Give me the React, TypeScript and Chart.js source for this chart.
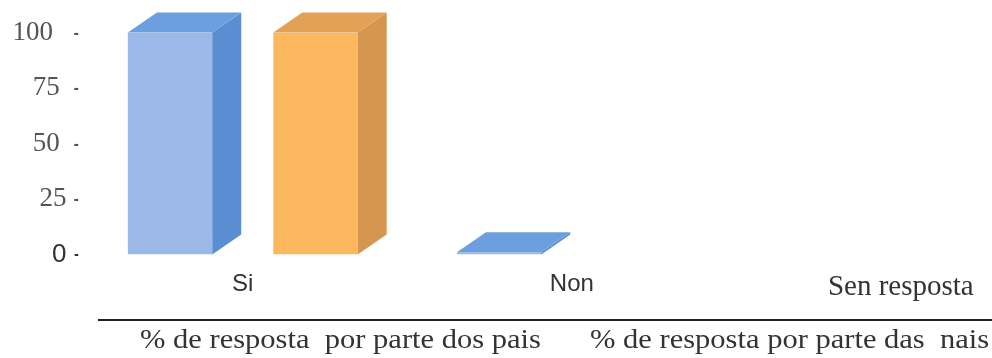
import React, { useEffect, useRef } from 'react';
import { Chart, registerables } from 'chart.js';

Chart.register(...registerables);

const categories = ['Si', 'Non', 'Sen resposta'];
const paisValues = [100, 1, 0];
const naisValues = [100, 0, 0];
const seriesLabels = ['% de resposta  por parte dos pais', '% de resposta por parte das  nais'];
const yTickValues = [0, 25, 50, 75, 100];
const yTickLabels = ['0 -', '25 -', '50  -', '75  -', '100   -'];

const frontColors = ['#9BB8E8', '#FCB75F'];
const topColors = ['#6C9FDD', '#E2A154'];
const sideColors = ['#5A8ED2', '#D5964F'];

const bar3dPlugin = {
  id: 'bar3d',
  afterDatasetsDraw(chart: any) {
    const ctx = chart.ctx;
    const dx = 29;
    const dy = 20;
    chart.data.datasets.forEach((ds: any, di: number) => {
      const meta = chart.getDatasetMeta(di);
      meta.data.forEach((el: any, i: number) => {
        const raw = ds.data[i];
        if (!raw || raw.y <= 0) return;
        const { x, y, base, width } = el.getProps(['x', 'y', 'base', 'width'], true);
        const l = x - width / 2;
        const r = x + width / 2;
        ctx.save();
        ctx.fillStyle = sideColors[di];
        ctx.beginPath();
        ctx.moveTo(r, y);
        ctx.lineTo(r + dx, y - dy);
        ctx.lineTo(r + dx, base - dy);
        ctx.lineTo(r, base);
        ctx.closePath();
        ctx.fill();
        ctx.fillStyle = topColors[di];
        ctx.beginPath();
        ctx.moveTo(l, y);
        ctx.lineTo(l + dx, y - dy);
        ctx.lineTo(r + dx, y - dy);
        ctx.lineTo(r, y);
        ctx.closePath();
        ctx.fill();
        ctx.restore();
      });
    });
  },
};

const legendPlugin = {
  id: 'customLegend',
  afterDraw(chart: any) {
    const ctx = chart.ctx;
    ctx.save();
    ctx.strokeStyle = '#222';
    ctx.lineWidth = 2;
    ctx.beginPath();
    ctx.moveTo(98, 320);
    ctx.lineTo(chart.width, 320);
    ctx.stroke();
    ctx.fillStyle = '#333';
    ctx.font = '28px "Liberation Serif"';
    ctx.textBaseline = 'alphabetic';
    const xs = [140, 590];
    chart.data.datasets.forEach((ds: any, i: number) => {
      ctx.save();
      ctx.translate(xs[i], 348);
      ctx.scale(1.09, 1);
      ctx.fillText(ds.label, 0, 0);
      ctx.restore();
    });
    ctx.restore();
  },
};

export default function App() {
  const ref = useRef<HTMLCanvasElement | null>(null);
  useEffect(() => {
    if (!ref.current) return;
    const chart = new Chart(ref.current, {
      type: 'bar',
      data: {
        datasets: [
          {
            label: seriesLabels[0],
            data: paisValues.map((v, i) => ({ x: i, y: v })),
            backgroundColor: frontColors[0],
            borderWidth: 0,
          },
          {
            label: seriesLabels[1],
            data: naisValues.map((v, i) => ({ x: i, y: v })),
            backgroundColor: frontColors[1],
            borderWidth: 0,
          },
        ],
      },
      options: {
        animation: false,
        responsive: true,
        maintainAspectRatio: false,
        categoryPercentage: 0.884,
        barPercentage: 0.58,
        layout: { padding: { top: 32.5, bottom: 43.5, left: 0, right: 0 } },
        plugins: { legend: { display: false }, tooltip: { enabled: false } },
        scales: {
          x: {
            type: 'linear',
            offset: false,
            min: -0.5,
            max: 2.277,
            grid: { display: false, drawTicks: false },
            border: { display: false },
            afterBuildTicks: (scale: any) => {
              scale.ticks = categories.map((_, i) => ({ value: i }));
            },
            afterFit: (scale: any) => {
              scale.height = 60;
            },
            ticks: {
              padding: 15,
              color: '#333',
              maxRotation: 0,
              autoSkip: false,
              callback: (v: any) => categories[v] ?? '',
              font: (c: any) =>
                c.index === 2
                  ? { family: '"Liberation Serif"', size: 29 }
                  : { family: '"Liberation Sans"', size: 24 },
            },
          },
          y: {
            min: 0,
            max: 100,
            grid: { display: false, drawTicks: false },
            border: { display: false },
            afterBuildTicks: (scale: any) => {
              scale.ticks = yTickValues.map((v) => ({ value: v }));
            },
            afterFit: (scale: any) => {
              scale.width = 78.25;
            },
            ticks: {
              padding: -4,
              color: (c: any) => (c.index === 0 ? '#333' : '#555'),
              callback: (v: any) => yTickLabels[yTickValues.indexOf(v)] ?? '',
              font: (c: any) =>
                c.index === 0
                  ? { family: '"Liberation Sans"', size: 26 }
                  : { family: '"Liberation Serif"', size: 27 },
            },
          },
        },
      } as any,
      plugins: [bar3dPlugin, legendPlugin],
    });
    return () => chart.destroy();
  }, []);
  return (
    <div style={{ position: 'fixed', left: 0, top: 0, width: 992, height: 358 }}>
      <canvas ref={ref} />
    </div>
  );
}
